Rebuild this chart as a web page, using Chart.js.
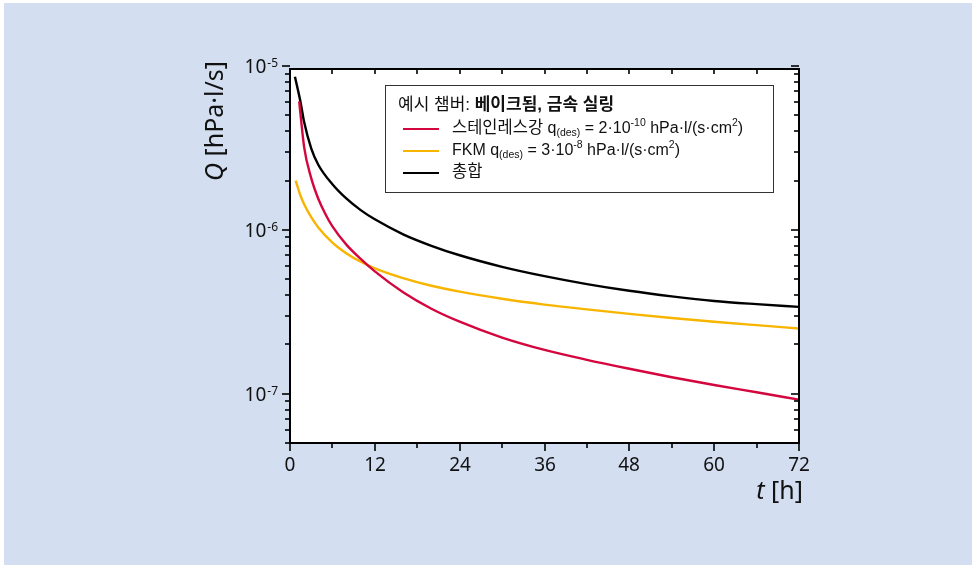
<!DOCTYPE html>
<html>
<head>
<meta charset="utf-8">
<script src="https://cdn.jsdelivr.net/npm/chart.js@4"></script>
<style>
  html, body { margin: 0; padding: 0; background: #ffffff; }
  #wrap { position: absolute; left: 0; top: 0; width: 975px; height: 568px; }
</style>
</head>
<body>
<div id="wrap"><canvas id="chart" width="975" height="568"></canvas></div>
<script>
// time [h] and gas load Q [hPa·l/s]
const tStainless = [1.3, 2, 3, 4, 5, 6, 8, 10, 12, 16, 20, 24, 30, 36, 42, 48, 54, 60, 66, 72];
const qStainless = [6.1e-6, 3.2e-6, 2.07e-6, 1.55e-6, 1.25e-6, 1.05e-6, 8.1e-7, 6.65e-7, 5.58e-7, 4.16e-7, 3.3e-7, 2.75e-7, 2.2e-7, 1.85e-7, 1.61e-7, 1.42e-7, 1.26e-7, 1.13e-7, 1.02e-7, 9.2e-8];

const tFkm = [0.8, 1.5, 2, 3, 4, 6, 8, 10, 12, 16, 20, 24, 30, 36, 42, 48, 54, 60, 66, 72];
const qFkm = [2.0e-6, 1.61e-6, 1.435e-6, 1.195e-6, 1.035e-6, 8.37e-7, 7.18e-7, 6.39e-7, 5.83e-7, 5.08e-7, 4.56e-7, 4.2e-7, 3.8e-7, 3.5e-7, 3.27e-7, 3.07e-7, 2.9e-7, 2.75e-7, 2.62e-7, 2.5e-7];

const tTotal = [0.7, 1.5, 2, 3, 4, 6, 8, 10, 12, 16, 20, 24, 30, 36, 42, 48, 54, 60, 66, 72];
const qTotal = [8.6e-6, 6.0e-6, 4.55e-6, 3.15e-6, 2.5e-6, 1.9e-6, 1.55e-6, 1.32e-6, 1.16e-6, 9.4e-7, 8.0e-7, 7.0e-7, 5.95e-7, 5.22e-7, 4.67e-7, 4.25e-7, 3.93e-7, 3.68e-7, 3.52e-7, 3.39e-7];

const seriesNames = ["스테인레스강", "FKM", "총합"];
const seriesColors = ["#d4063e", "#f8b500", "#000000"];

const xTicks = [0, 12, 24, 36, 48, 60, 72];
const xMinorTicks = [6, 18, 30, 42, 54, 66];
const yTicks = [1e-7, 1e-6, 1e-5];
const yTickExponents = ["-7", "-6", "-5"];

const legendTitle = "예시 챔버: ";
const legendTitleBold = "베이크됨, 금속 실링";

const FONT_AX = '"Noto Sans", "Noto Sans CJK KR", sans-serif';
const FONT_LG = '"Liberation Sans", "Noto Sans CJK KR", sans-serif';

const toPoints = (ts, qs) => ts.map((t, i) => ({ x: t, y: qs[i] }));

// legend row pieces: [text, size, dy, bold]
const legendRows = [
  [[seriesNames[0], 16.5, 0], [" q", 16, 0], ["(des)", 10.5, 3], [" = 2·10", 16, 0], ["-10", 10.5, -7], [" hPa·l/(s·cm", 16, 0], ["2", 10.5, -7], [")", 16, 0]],
  [[seriesNames[1] + " q", 16, 0], ["(des)", 10.5, 3], [" = 3·10", 16, 0], ["-8", 10.5, -7], [" hPa·l/(s·cm", 16, 0], ["2", 10.5, -7], [")", 16, 0]],
  [[seriesNames[2], 16.5, 0]],
];

function drawRuns(ctx, x, y, runs, family) {
  ctx.textAlign = "left";
  ctx.textBaseline = "alphabetic";
  for (const [text, size, dy, bold] of runs) {
    ctx.font = (bold ? "bold " : "") + size + "px " + family;
    ctx.fillText(text, x, y + dy);
    x += ctx.measureText(text).width;
  }
  return x;
}

const framePlugin = {
  id: "frame",
  beforeDraw(chart) {
    const { ctx, chartArea: a } = chart;
    ctx.save();
    ctx.fillStyle = "#ffffff";
    ctx.fillRect(0, 0, chart.width, chart.height);
    ctx.fillStyle = "#d3def0";
    ctx.fillRect(4, 3, 968, 562);
    ctx.fillStyle = "#ffffff";
    ctx.fillRect(a.left, a.top, a.right - a.left, a.bottom - a.top);
    ctx.restore();
  },
  afterDraw(chart) {
    const { ctx, chartArea: a } = chart;
    const xs = chart.scales.x, ys = chart.scales.y;
    ctx.save();
    ctx.strokeStyle = "#000";
    ctx.fillStyle = "#111";

    // box
    ctx.lineWidth = 2;
    ctx.strokeRect(a.left, a.top, a.right - a.left, a.bottom - a.top);

    ctx.lineWidth = 1.6;
    const hTick = (y, x0, x1) => { ctx.beginPath(); ctx.moveTo(x0, y); ctx.lineTo(x1, y); ctx.stroke(); };
    const vTick = (x, y0, y1) => { ctx.beginPath(); ctx.moveTo(x, y0); ctx.lineTo(x, y1); ctx.stroke(); };

    // y ticks: majors and minors
    const minorY = [];
    for (let e = -8; e <= -6; e++) for (let m = 2; m <= 9; m++) {
      const v = m * Math.pow(10, e);
      if (v >= ys.min * 0.999 && v <= ys.max) minorY.push(v);
    }
    minorY.forEach(v => {
      const y = Math.round(ys.getPixelForValue(v));
      hTick(y, a.left - 5, a.left);
      hTick(y, a.right, a.right - 5);
    });
    yTicks.forEach((v, i) => {
      const y = Math.round(ys.getPixelForValue(v));
      hTick(y, a.left - 8, a.left);
      hTick(y, a.right, a.right - 8);
      ctx.textBaseline = "alphabetic";
      ctx.textAlign = "left";
      ctx.font = "12px " + FONT_AX;
      const ew = ctx.measureText(yTickExponents[i]).width;
      ctx.font = "19px " + FONT_AX;
      const bw = ctx.measureText("10").width;
      const x0 = a.left - 13 - ew - bw;
      ctx.fillText("10", x0, y + 7);
      ctx.font = "12px " + FONT_AX;
      ctx.fillText(yTickExponents[i], x0 + bw + 1, y + 1);
    });

    // x ticks
    xMinorTicks.forEach(v => {
      const x = Math.round(xs.getPixelForValue(v));
      vTick(x, a.bottom, a.bottom + 5);
      vTick(x, a.top, a.top + 5);
    });
    xTicks.forEach(v => {
      const x = Math.round(xs.getPixelForValue(v));
      vTick(x, a.bottom, a.bottom + 8);
      vTick(x, a.top, a.top + 5);
      ctx.font = "19px " + FONT_AX;
      ctx.textAlign = "center";
      ctx.textBaseline = "alphabetic";
      ctx.fillText(String(v), x, a.bottom + 28);
    });

    // axis titles
    ctx.save();
    ctx.translate(223, 121);
    ctx.rotate(-Math.PI / 2);
    ctx.font = "italic 25px " + FONT_AX;
    const qw = ctx.measureText("Q").width;
    ctx.font = "25px " + FONT_AX;
    const rw = ctx.measureText(" [hPa·l/s]").width;
    const sx = -(qw + rw) / 2;
    ctx.textAlign = "left";
    ctx.font = "italic 25px " + FONT_AX;
    ctx.fillText("Q", sx, 0);
    ctx.font = "25px " + FONT_AX;
    ctx.fillText(" [hPa·l/s]", sx + qw, 0);
    ctx.restore();

    ctx.font = "25px " + FONT_AX;
    const hw = ctx.measureText(" [h]").width;
    ctx.font = "italic 25px " + FONT_AX;
    const tw = ctx.measureText("t").width;
    const tx = 803 - hw - tw;
    ctx.textAlign = "left";
    ctx.fillText("t", tx, 499);
    ctx.font = "25px " + FONT_AX;
    ctx.fillText(" [h]", tx + tw, 499);

    // legend box
    ctx.fillStyle = "#ffffff";
    ctx.fillRect(385, 85, 388, 107);
    ctx.strokeStyle = "#333";
    ctx.lineWidth = 1;
    ctx.strokeRect(385.5, 85.5, 388, 107);
    ctx.fillStyle = "#111";
    drawRuns(ctx, 398, 110, [[legendTitle, 17, 0, false], [legendTitleBold, 17, 0, true]], FONT_LG);
    const rowY = [133, 155, 177];
    legendRows.forEach((runs, i) => {
      ctx.strokeStyle = seriesColors[i];
      ctx.lineWidth = 2;
      ctx.beginPath();
      ctx.moveTo(403, rowY[i] - 4);
      ctx.lineTo(439, rowY[i] - 4);
      ctx.stroke();
      ctx.fillStyle = "#111";
      drawRuns(ctx, 452, rowY[i], runs, FONT_LG);
    });
    ctx.restore();
  },
};

const ctx = document.getElementById("chart");
new Chart(ctx, {
  type: "line",
  data: {
    datasets: [
      { label: seriesNames[0], data: toPoints(tStainless, qStainless), borderColor: seriesColors[0] },
      { label: seriesNames[1], data: toPoints(tFkm, qFkm), borderColor: seriesColors[1] },
      { label: seriesNames[2], data: toPoints(tTotal, qTotal), borderColor: seriesColors[2] },
    ],
  },
  options: {
    responsive: false,
    animation: false,
    layout: { padding: { left: 290, top: 69, right: 176, bottom: 125 } },
    elements: {
      point: { radius: 0 },
      line: { borderWidth: 2.4, cubicInterpolationMode: "monotone", fill: false },
    },
    scales: {
      x: { type: "linear", min: 0, max: 72, display: false },
      y: { type: "logarithmic", min: 5e-8, max: 9.6e-6, display: false },
    },
    plugins: {
      legend: { display: false },
      tooltip: { enabled: false },
    },
  },
  plugins: [framePlugin],
});
</script>
</body>
</html>
